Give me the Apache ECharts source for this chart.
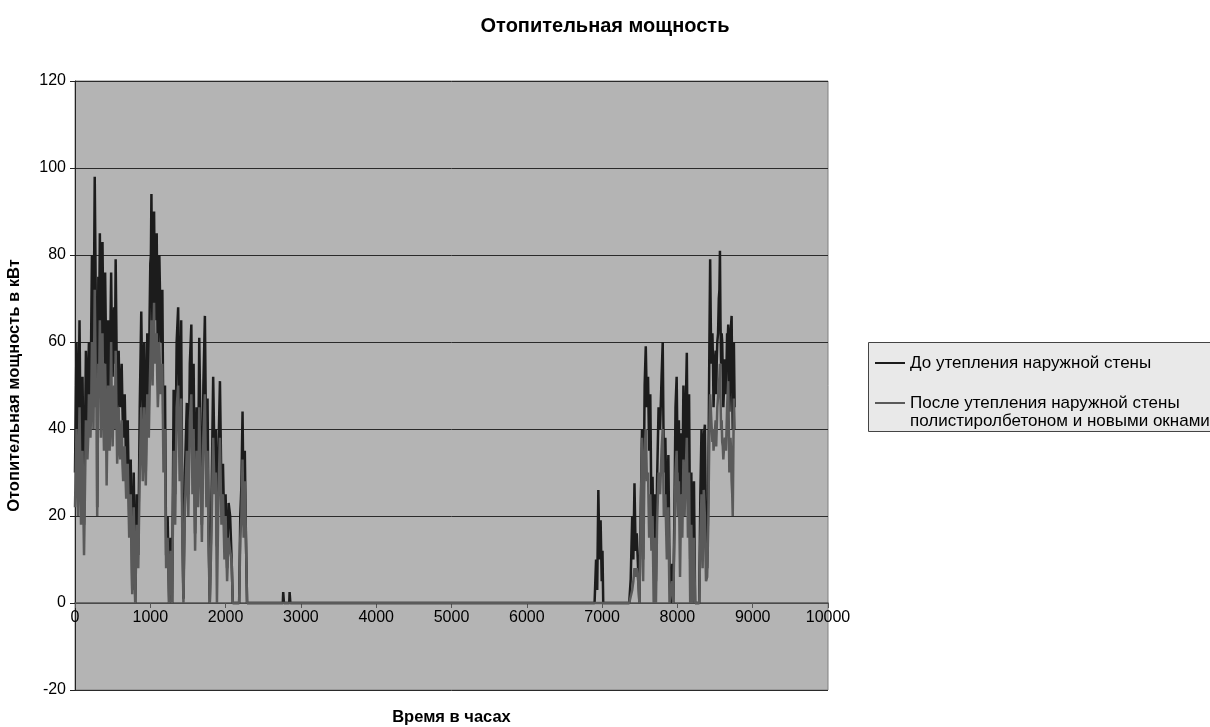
<!DOCTYPE html>
<html>
<head>
<meta charset="utf-8">
<script src="https://cdn.jsdelivr.net/npm/echarts@6/dist/echarts.min.js"></script>
<style>
html,body{margin:0;padding:0;background:#fff;}
#chart{width:1210px;height:727px;}
</style>
</head>
<body>
<div id="chart"></div>
<script>
// Hours of the year (x values)
var hours = [
  0,20,40,60,80,100,120,145,165,175,
  185,195,205,215,225,235,245,253,262,271,
  280,288,295,302,310,320,330,338,345,355,
  365,375,385,392,400,410,420,430,440,450,
  460,470,480,490,500,510,520,530,540,550,
  560,570,580,590,600,610,620,630,640,660,
  680,700,720,740,760,780,800,820,840,860,
  880,900,920,940,960,980,990,1000,1008,1015,
  1022,1030,1040,1050,1058,1065,1075,1085,1092,1100,
  1110,1120,1130,1140,1150,1160,1175,1195,1210,1230,
  1250,1270,1290,1310,1330,1350,1370,1390,1410,1425,
  1440,1460,1485,1505,1525,1545,1560,1575,1595,1615,
  1635,1650,1670,1685,1705,1725,1745,1760,1775,1790,
  1810,1835,1855,1870,1885,1905,1925,1945,1965,1985,
  2000,2020,2040,2060,2080,2095,2180,2195,2210,2225,
  2240,2255,2270,2285,2760,2765,2775,2845,2850,2860,
  6900,6920,6935,6950,6965,6980,6995,7005,7015,7360,
  7380,7400,7415,7430,7445,7460,7480,7495,7520,7530,
  7545,7565,7580,7595,7610,7625,7640,7655,7670,7685,
  7700,7715,7730,7750,7770,7790,7805,7820,7840,7860,
  7880,7895,7910,7930,7945,7960,7975,7990,8005,8020,
  8035,8050,8065,8080,8095,8110,8125,8140,8155,8170,
  8185,8200,8220,8235,8290,8305,8320,8335,8350,8365,
  8380,8395,8410,8425,8435,8443,8450,8458,8465,8473,
  8480,8490,8500,8508,8515,8522,8530,8540,8550,8558,
  8565,8572,8580,8588,8595,8603,8610,8620,8630,8638,
  8645,8653,8660,8668,8675,8683,8690,8698,8705,8713,
  8720,8728,8735,8743,8750,8760
];
// Heating power before insulation, kW
var beforeValues = [
  30,60,33,65,25,52,18,58,40,52,
  60,55,45,62,80,70,50,75,98,80,
  60,70,22,45,75,62,85,70,50,72,
  83,65,55,60,76,62,45,58,65,55,
  48,62,76,60,52,62,68,55,79,62,
  40,52,58,48,45,50,55,45,38,48,
  30,42,20,33,3,30,0,25,11,45,
  67,40,60,30,62,45,65,78,80,94,
  75,60,82,90,75,65,78,85,70,55,
  68,80,70,60,62,72,35,50,11,20,
  0,15,0,49,25,60,68,35,65,20,
  1,30,46,25,55,64,30,55,16,45,
  28,61,35,18,50,66,30,47,16,0,
  20,52,30,40,13,35,51,25,32,15,
  25,8,23,20,10,0,0,20,27,44,
  20,35,15,0,0,2.5,0,0,2.5,0,
  0,10,3,26,10,19,5,12,0,0,
  5.5,20,10,27.5,12,16,7,0,0,40,
  10,50,59,45,52,35,48,20,29,10,
  25,5,28,45,40,52,60,30,38,16,
  34,8,0,9,0,20,45,52,30,42,
  20,39,25,50,30,44,57.5,25,48,10,
  30,0,28,0,0,25,40,18,38,41,
  15,8,25,60,79,65,55,60,62,55,
  45,52,56,58,48,55,60,62,70,72,
  81,65,55,62,60,52,45,50,56,52,
  48,55,62,60,64,55,44,50,62,64,
  66,50,40,52,60,45
];
// Heating power after insulation with polystyrene concrete and new windows, kW
var afterValues = [
  22,40,20,45,18,35,11,42,33,38,
  48,42,38,45,60,52,40,55,72,58,
  45,50,20,35,55,48,65,52,38,55,
  62,45,35,42,55,45,27,40,50,38,
  35,45,60,42,36,45,50,40,58,45,
  32,38,45,36,33,38,42,32,28,36,
  24,32,15,25,2,22,0,18,8,30,
  45,28,45,27,48,38,48,55,55,65,
  58,50,60,69,58,55,55,62,52,45,
  50,60,52,48,48,55,30,40,8,15,
  0,12,0,35,18,45,50,28,47,15,
  0,22,35,20,42,48,25,40,12,35,
  22,45,28,14,38,48,22,35,12,0,
  14,38,25,30,0,25,38,18,25,10,
  20,5,15,12,10,0,0,15,20,33,
  15,28,15,0,0,0,0,0,0,0,
  0,0,0,0,0,0,0,0,0,0,
  0,3,5,8,6,8,5,0,0,38,
  5,35,40,28,30,15,25,12,20,0,
  15,0,18,30,25,35,40,20,25,10,
  22,0,0,5,0,15,30,35,20,28,
  6,25,15,33,20,30,38,15,30,0,
  18,0,15,0,0,15,25,8,26,20,
  5,6,18,40,48,45,42,42,37,40,
  35,38,40,42,36,40,45,45,50,52,
  55,48,40,42,37,36,33,36,38,38,
  35,40,45,45,51,40,30,32,38,35,
  28,25,20,35,47,40
];
var seriesNames = [
  'До утепления наружной стены',
  'После утепления наружной стены\nполистиролбетоном и новыми окнами'
];
var yTicks = { min: -20, max: 120, step: 20 };
var xTicks = { min: 0, max: 10000, step: 1000 };

function pairs(vals) {
  var out = [];
  for (var i = 0; i < hours.length; i++) out.push([hours[i], vals[i]]);
  return out;
}

var font = '"Liberation Sans", Arial, sans-serif';
var legendFont = 17;
var chart = echarts.init(document.getElementById('chart'), null, { renderer: 'canvas' });
chart.setOption({
  animation: false,
  backgroundColor: '#ffffff',
  title: {
    text: 'Отопительная мощность',
    left: 'center',
    top: 11,
    textStyle: { fontFamily: font, fontSize: 20, fontWeight: 'bold', color: '#000' }
  },
  graphic: [
    {
      type: 'rect',
      z: -1,
      shape: { x: 868.5, y: 342.5, width: 360, height: 89 },
      style: { fill: '#e9e9e9', stroke: '#444', lineWidth: 1 }
    },
    {
      type: 'text',
      z: 10,
      x: 910,
      y: 421,
      style: {
        text: seriesNames[1].split('\n')[1],
        fontFamily: font,
        fontSize: legendFont,
        fill: '#000',
        verticalAlign: 'middle',
        align: 'left'
      }
    }
  ],
  legend: {
    orient: 'vertical',
    left: 875,
    top: 354,
    padding: 0,
    itemGap: 22,
    itemWidth: 30,
    itemHeight: 2,
    icon: 'rect',
    selectedMode: false,
    textStyle: { fontFamily: font, fontSize: legendFont, color: '#000', lineHeight: 18 },
    formatter: function (name) { return name.split('\n')[0]; },
    data: seriesNames
  },
  grid: {
    left: 75, right: 382, top: 81, bottom: 37,
    outerBoundsMode: 'none',
    containLabel: false,
    show: true,
    backgroundColor: '#b4b4b4',
    borderColor: '#808080',
    borderWidth: 1
  },
  xAxis: {
    type: 'value',
    min: xTicks.min, max: xTicks.max, interval: xTicks.step,
    name: 'Время в часах',
    nameLocation: 'middle',
    nameGap: 106,
    nameTextStyle: { fontFamily: font, fontSize: 16.5, fontWeight: 'bold', color: '#000' },
    axisLine: { onZero: false, lineStyle: { color: '#555', width: 1.5 } },
    axisTick: { show: true, length: 5, lineStyle: { color: '#555' } },
    axisLabel: {
      fontFamily: font, fontSize: 16, color: '#000', margin: 7,
      formatter: function (v) { return String(v); }
    },
    splitLine: { show: false }
  },
  yAxis: {
    type: 'value',
    min: yTicks.min, max: yTicks.max, interval: yTicks.step,
    name: 'Отопительная мощность в кВт',
    nameLocation: 'middle',
    nameGap: 52,
    nameRotate: 90,
    nameTextStyle: { fontFamily: font, fontSize: 16.5, fontWeight: 'bold', color: '#000' },
    axisLine: { show: true, onZero: false, lineStyle: { color: '#222', width: 1 } },
    axisTick: { show: true, length: 5, lineStyle: { color: '#222' } },
    axisLabel: { fontFamily: font, fontSize: 16, color: '#000', margin: 9 },
    splitLine: { show: true, lineStyle: { color: '#2a2a2a', width: 1 } }
  },
  series: [
    {
      name: seriesNames[0],
      type: 'line',
      data: pairs(beforeValues),
      showSymbol: false,
      symbol: 'none',
      color: '#1c1c1c',
      lineStyle: { color: '#1c1c1c', width: 2.5 }
    },
    {
      name: seriesNames[1],
      type: 'line',
      data: pairs(afterValues),
      showSymbol: false,
      symbol: 'none',
      color: '#5a5a5a',
      lineStyle: { color: '#5a5a5a', width: 2.5 }
    }
  ]
});
// Move the x axis (line, ticks, labels, name) up to the y = 0 level, as in the reference
var yZeroPx = chart.convertToPixel({ yAxisIndex: 0 }, 0);
var yMinPx = chart.convertToPixel({ yAxisIndex: 0 }, yTicks.min);
chart.setOption({ xAxis: { offset: -(yMinPx - yZeroPx) } });
</script>
</body>
</html>
